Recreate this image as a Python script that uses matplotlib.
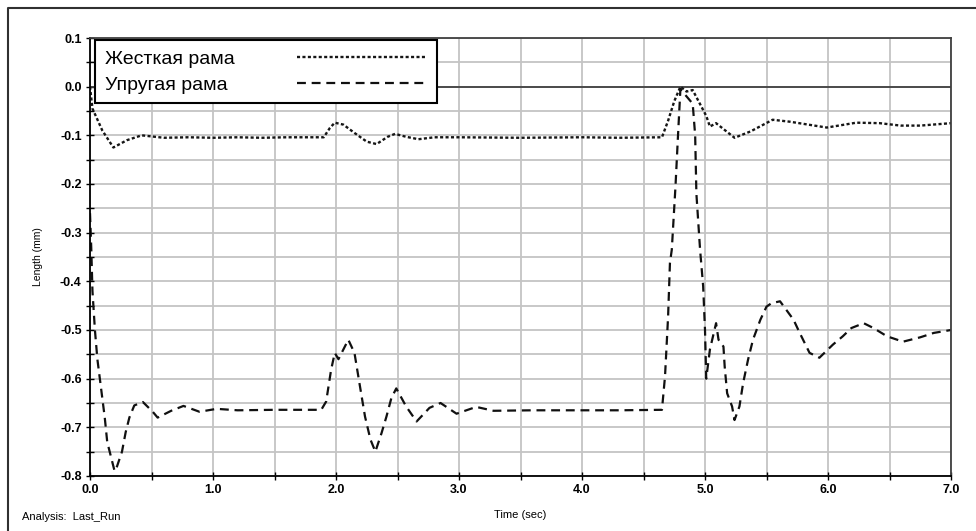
import matplotlib
matplotlib.use('agg')
import matplotlib.pyplot as plt
from matplotlib.lines import Line2D
from matplotlib.ticker import MultipleLocator, FormatStrFormatter

plt.rcParams['font.family'] = ['Liberation Sans', 'DejaVu Sans']

# Жесткая рама (dotted)
t_rigid = [0.0, 0.02, 0.1, 0.19, 0.3, 0.42, 0.6, 0.8, 1.0, 1.2, 1.4, 1.6, 1.9,
           1.95, 1.99, 2.06, 2.15, 2.25, 2.33, 2.42, 2.48, 2.57, 2.67, 2.8,
           3.0, 3.5, 4.0, 4.3, 4.65, 4.7, 4.75, 4.8, 4.85, 4.9, 5.01, 5.04,
           5.09, 5.24, 5.37, 5.55, 5.69, 5.99, 6.23, 6.42, 6.59, 6.75, 7.0]
v_rigid = [0.0, -0.045, -0.09, -0.125, -0.11, -0.1, -0.105, -0.104, -0.105,
           -0.104, -0.105, -0.104, -0.104, -0.085, -0.074, -0.078, -0.095,
           -0.113, -0.118, -0.103, -0.097, -0.103, -0.108, -0.104, -0.104,
           -0.105, -0.104, -0.105, -0.104, -0.07, -0.03, 0.0, -0.01, -0.007,
           -0.06, -0.082, -0.075, -0.105, -0.092, -0.068, -0.072, -0.084,
           -0.074, -0.075, -0.08, -0.08, -0.075]

# Упругая рама (dashed)
t_elastic = [0.0, 0.01, 0.02, 0.04, 0.06, 0.08, 0.1, 0.12, 0.14, 0.16, 0.2,
             0.22, 0.26, 0.29, 0.32, 0.36, 0.43, 0.51, 0.55, 0.66, 0.76, 0.89,
             1.03, 1.2, 1.5, 1.88, 1.92, 1.96, 1.99, 2.02, 2.1, 2.15, 2.195,
             2.236, 2.28, 2.32, 2.37, 2.41, 2.45, 2.49, 2.57, 2.655, 2.76,
             2.85, 2.98, 3.14, 3.28, 3.6, 4.0, 4.3, 4.65, 4.675, 4.7, 4.715,
             4.73, 4.76, 4.78, 4.8, 4.85, 4.9, 4.92, 4.93, 4.96, 4.985, 5.0,
             5.01, 5.04, 5.09, 5.11, 5.15, 5.16, 5.18, 5.22, 5.24, 5.28, 5.31,
             5.35, 5.39, 5.45, 5.5, 5.54, 5.61, 5.72, 5.77, 5.85, 5.93, 6.04,
             6.12, 6.19, 6.29, 6.37, 6.48, 6.61, 6.75, 6.86, 7.0]
v_elastic = [-0.26, -0.33, -0.42, -0.5, -0.56, -0.6, -0.64, -0.68, -0.73,
             -0.75, -0.79, -0.78, -0.75, -0.71, -0.68, -0.655, -0.648, -0.668,
             -0.68, -0.666, -0.656, -0.668, -0.662, -0.665, -0.664, -0.664,
             -0.647, -0.582, -0.547, -0.56, -0.52, -0.547, -0.616, -0.678,
             -0.725, -0.75, -0.712, -0.678, -0.64, -0.62, -0.657, -0.688,
             -0.66, -0.65, -0.672, -0.658, -0.666, -0.665, -0.665, -0.665,
             -0.664, -0.595, -0.472, -0.362, -0.335, -0.205, -0.103, -0.005,
             -0.02, -0.035, -0.1, -0.22, -0.335, -0.41, -0.5, -0.6, -0.54,
             -0.486, -0.52, -0.534, -0.575, -0.63, -0.657, -0.685, -0.657,
             -0.609, -0.561, -0.52, -0.479, -0.452, -0.445, -0.441, -0.479,
             -0.506, -0.547, -0.557, -0.53, -0.513, -0.496, -0.486, -0.496,
             -0.513, -0.524, -0.515, -0.506, -0.5]

labels = ['Жесткая рама', 'Упругая рама']

fig = plt.figure(figsize=(9.76, 5.31), dpi=100)
ax = fig.add_axes([90 / 976, 1 - 476 / 531, 861 / 976, 438 / 531])

ax.set_xlim(0, 7)
ax.set_ylim(-0.8, 0.1)
ax.xaxis.set_major_locator(MultipleLocator(1.0))
ax.xaxis.set_minor_locator(MultipleLocator(0.5))
ax.yaxis.set_major_locator(MultipleLocator(0.1))
ax.yaxis.set_minor_locator(MultipleLocator(0.05))
ax.xaxis.set_major_formatter(FormatStrFormatter('%.1f'))
ax.yaxis.set_major_formatter(FormatStrFormatter('%.1f'))
ax.grid(which='both', color='#c4c4c4', linewidth=1.3)
ax.set_axisbelow(True)
ax.tick_params(which='both', direction='inout', length=6, width=1,
               top=False, right=False, labelsize=9, pad=3)
for lab in ax.get_xticklabels() + ax.get_yticklabels():
    lab.set_fontweight('bold')

for side in ['left', 'bottom']:
    ax.spines[side].set_linewidth(1.3)
    ax.spines[side].set_color('black')
for side in ['top', 'right']:
    ax.spines[side].set_linewidth(1.3)
    ax.spines[side].set_color('#404040')

ax.axhline(0.0, color='#404040', linewidth=1.3, zorder=1.5)

ax.plot(t_rigid, v_rigid, color='#151515', linewidth=1.7,
        linestyle=(0, (1.3, 1.0)), label=labels[0])
ax.plot(t_elastic, v_elastic, color='#101010', linewidth=1.6,
        linestyle=(0, (4, 2.6)), label=labels[1])

leg = ax.legend(loc='upper left', bbox_to_anchor=(0.006, 0.995),
                borderaxespad=0, fancybox=False, framealpha=1,
                edgecolor='black', fontsize=14, markerfirst=False,
                handlelength=6.7, handletextpad=3.2, labelspacing=0.44,
                borderpad=0.5)
leg.get_frame().set_linewidth(1.5)

# keep label texts left-aligned and the line samples in one column
renderer = fig.canvas.get_renderer()
widths = [t.get_window_extent(renderer).width * 72 / fig.dpi for t in leg.texts]
col = leg._legend_handle_box.get_children()[0]
col.align = 'left'
for row, w in zip(col.get_children(), widths):
    row.sep = row.sep + (max(widths) - w)

ax.set_ylabel('Length (mm)', fontsize=7.5, labelpad=12)
ax.set_xlabel('Time (sec)', fontsize=8, labelpad=10)

fig.text(22 / 976, 1 - 517 / 531, 'Analysis:  Last_Run', fontsize=8,
         va='center', ha='left')

# outer frame (left and top edges)
fig.add_artist(Line2D([8 / 976, 8 / 976, 1.0], [0.0, 1 - 8 / 531, 1 - 8 / 531],
                      color='#303030', linewidth=1.5))

fig.savefig('out.png', dpi=100)
